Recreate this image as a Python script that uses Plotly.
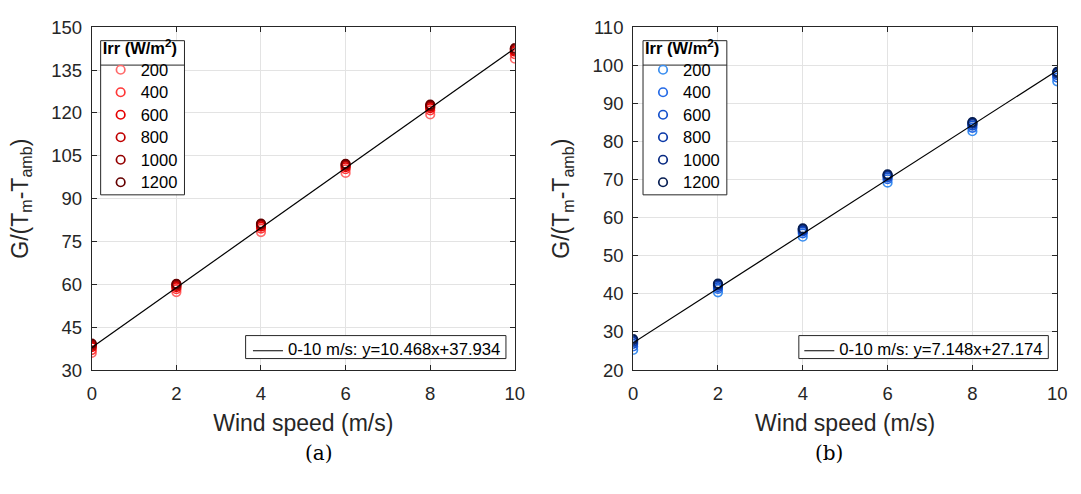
import plotly.graph_objects as go

wind = [0, 2, 4, 6, 8, 10]
irr_labels = ["200", "400", "600", "800", "1000", "1200"]

# Panel (a) values per irradiance
a_vals = {
    "200":  [36.0, 57.3, 78.3, 99.0, 119.5, 139.0],
    "400":  [37.0, 58.3, 79.5, 100.3, 120.9, 140.6],
    "600":  [38.0, 59.0, 80.2, 101.0, 121.7, 141.5],
    "800":  [38.5, 59.5, 80.7, 101.5, 122.2, 142.0],
    "1000": [39.0, 59.9, 81.0, 101.9, 122.6, 142.4],
    "1200": [39.3, 60.2, 81.3, 102.2, 122.9, 142.7],
}
b_vals = {
    "200":  [25.3, 40.4, 55.0, 69.2, 82.7, 95.8],
    "400":  [26.2, 41.3, 55.9, 70.1, 83.6, 96.8],
    "600":  [26.9, 41.8, 56.4, 70.6, 84.2, 97.4],
    "800":  [27.4, 42.2, 56.7, 71.0, 84.6, 97.8],
    "1000": [27.8, 42.5, 57.0, 71.2, 84.9, 98.1],
    "1200": [28.1, 42.7, 57.2, 71.4, 85.1, 98.3],
}
fit_a = (10.468, 37.934)
fit_b = (7.148, 27.174)
fit_x = [0, 10]

red_colors = ["#ff6a6a", "#ff3838", "#e60000", "#c00000", "#940000", "#650000"]
blue_colors = ["#3b8ff0", "#256ae6", "#1551cc", "#0b39a8", "#082a82", "#061d52"]

a_xticks = [0, 2, 4, 6, 8, 10]
a_yticks = [30, 45, 60, 75, 90, 105, 120, 135, 150]
b_yticks = [20, 30, 40, 50, 60, 70, 80, 90, 100, 110]

FONT = "Liberation Sans, Arial, sans-serif"
W, H = 1081, 494


def px(x):
    return x / W


def py(y):
    return 1 - y / H


def big(t, s):
    return '<span style="font-size:%spx">%s</span>' % (s, t)


# layout geometry (pixels)
AX_L = (88, 517)
AX_R = (637, 1067)
AX_T, AX_B = 17, 375

fig = go.Figure()

for i, lab in enumerate(irr_labels):
    fig.add_trace(go.Scatter(
        x=wind, y=a_vals[lab], mode="markers", name=big(lab, 16.5),
        marker=dict(symbol="circle-open", size=8.5, color=red_colors[i],
                    line=dict(width=1.7, color=red_colors[i])),
        xaxis="x", yaxis="y", legend="legend"))
fig.add_trace(go.Scatter(
    x=fit_x, y=[fit_a[0] * v + fit_a[1] for v in fit_x], mode="lines",
    name=big("0-10 m/s: y=%.3fx+%.3f" % fit_a, 16.7),
    line=dict(color="black", width=1.2), xaxis="x", yaxis="y", legend="legend2"))

for i, lab in enumerate(irr_labels):
    fig.add_trace(go.Scatter(
        x=wind, y=b_vals[lab], mode="markers", name=big(lab, 16.5),
        marker=dict(symbol="circle-open", size=8.5, color=blue_colors[i],
                    line=dict(width=1.7, color=blue_colors[i])),
        xaxis="x2", yaxis="y2", legend="legend3"))
fig.add_trace(go.Scatter(
    x=fit_x, y=[fit_b[0] * v + fit_b[1] for v in fit_x], mode="lines",
    name=big("0-10 m/s: y=%.3fx+%.3f" % fit_b, 16.7),
    line=dict(color="black", width=1.2), xaxis="x2", yaxis="y2", legend="legend4"))

ydom = [py(AX_B), py(AX_T)]
axis_common = dict(
    showline=True, linecolor="#262626", linewidth=1, mirror="ticks",
    ticks="inside", ticklen=5, tickcolor="#262626",
    showgrid=True, gridcolor="#e3e3e3", gridwidth=1, zeroline=False,
    tickfont=dict(family=FONT, size=18.5, color="#262626"),
)
xtitle = dict(text="Wind speed (m/s)", font=dict(size=23, color="#262626"), standoff=11)
ytitle = dict(text="G/(T<sub>m</sub>-T<sub>amb</sub>)", font=dict(size=23, color="#262626"), standoff=16)

irr_legend = dict(
    xanchor="left", yanchor="top", bgcolor="rgba(0,0,0,0)", borderwidth=0,
    font=dict(family=FONT, size=15, color="black"),
    title=dict(text="<b>Irr (W/m<sup>2</sup>)</b>", side="top", font=dict(family=FONT, size=16.5)),
    itemwidth=30)
fit_legend = dict(
    xanchor="right", yanchor="bottom", bgcolor="rgba(0,0,0,0)", borderwidth=0,
    font=dict(family=FONT, size=12, color="black"), itemwidth=30)

# Irr legend boxes (pixels): left, right, top, separator, bottom
boxes = [(97, 182, 31, 56.5, 192),
         (647, 732, 31, 56.5, 192)]
# fit legend boxes (pixels): left, right, top, bottom
fit_boxes = [(244, 508, 339, 363),
             (805, 1058, 339, 363)]
shapes = []
for (x0, x1, y0, ys, y1) in boxes:
    shapes.append(dict(type="rect", xref="paper", yref="paper", layer="above",
                       x0=px(x0), x1=px(x1), y0=py(y1), y1=py(y0),
                       fillcolor="white", line=dict(color="#262626", width=1)))
    shapes.append(dict(type="line", xref="paper", yref="paper", layer="above",
                       x0=px(x0), x1=px(x1), y0=py(ys), y1=py(ys),
                       line=dict(color="#262626", width=1)))
for (x0, x1, y0, y1) in fit_boxes:
    shapes.append(dict(type="rect", xref="paper", yref="paper", layer="above",
                       x0=px(x0), x1=px(x1), y0=py(y1), y1=py(y0),
                       fillcolor="white", line=dict(color="#262626", width=1)))

fig.update_layout(
    width=W, height=H, margin=dict(l=0, r=0, t=0, b=0),
    paper_bgcolor="white", plot_bgcolor="white",
    font=dict(family=FONT, color="#262626"),
    xaxis=dict(domain=[px(AX_L[0]), px(AX_L[1])], range=[0, 10], tickvals=a_xticks, title=xtitle,
               ticklabelstandoff=7, anchor="y", **axis_common),
    yaxis=dict(domain=ydom, range=[30, 150], tickvals=a_yticks, title=ytitle,
               ticklabelstandoff=5, anchor="x", **axis_common),
    xaxis2=dict(domain=[px(AX_R[0]), px(AX_R[1])], range=[0, 10], tickvals=a_xticks, title=xtitle,
                ticklabelstandoff=7, anchor="y2", **axis_common),
    yaxis2=dict(domain=ydom, range=[20, 110], tickvals=b_yticks, title=ytitle,
                ticklabelstandoff=5, anchor="x2", **axis_common),
    legend=dict(x=px(boxes[0][0]), y=py(22), **irr_legend),
    legend2=dict(x=px(fit_boxes[0][1]), y=py(370), **fit_legend),
    legend3=dict(x=px(boxes[1][0]), y=py(22), **irr_legend),
    legend4=dict(x=px(fit_boxes[1][1]), y=py(370), **fit_legend),
    shapes=shapes,
    annotations=[
        dict(text="(a)", x=px(sum(AX_L) / 2), y=py(462), xref="paper", yref="paper",
             yanchor="middle", showarrow=False,
             font=dict(family="DejaVu Serif, serif", size=20, color="black")),
        dict(text="(b)", x=px(sum(AX_R) / 2), y=py(462), xref="paper", yref="paper",
             yanchor="middle", showarrow=False,
             font=dict(family="DejaVu Serif, serif", size=20, color="black")),
    ],
)

fig.write_html("out.html")
